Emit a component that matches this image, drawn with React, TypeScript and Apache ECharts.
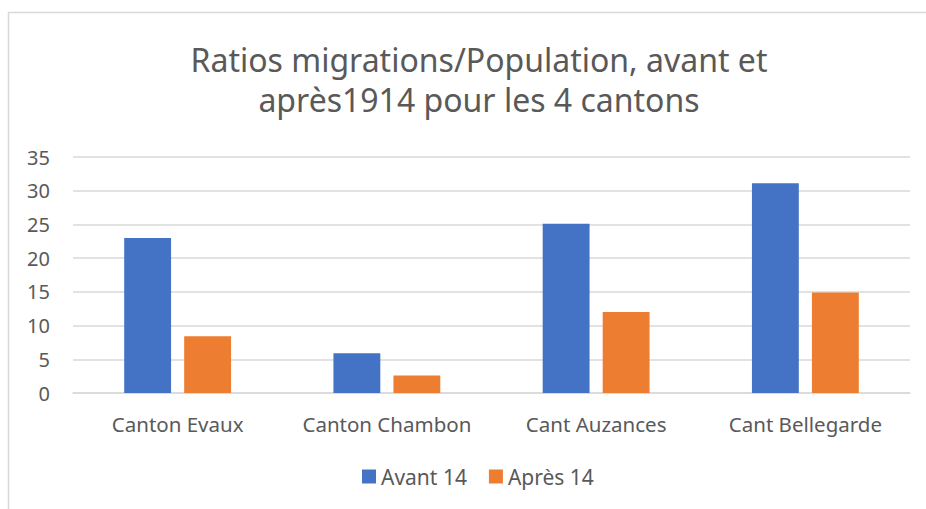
import React, { useEffect, useRef } from "react";
import * as echarts from "echarts";

const categories = ["Canton Evaux", "Canton Chambon", "Cant Auzances", "Cant Bellegarde"];
const avant14 = [23, 5.9, 25.1, 31.1];
const apres14 = [8.4, 2.6, 12, 14.9];
const seriesNames = ["Avant 14", "Après 14"];
const titleText = "Ratios migrations/Population, avant et\naprès1914 pour les 4 cantons";

export default function App() {
  const ref = useRef<HTMLDivElement>(null);
  useEffect(() => {
    if (!ref.current) return;
    const chart = echarts.init(ref.current, null, { renderer: "svg" });
    const font = "'Noto Sans', 'Open Sans', sans-serif";
    chart.setOption({
      animation: false,
      textStyle: { fontFamily: font },
      graphic: [
        {
          type: "rect",
          shape: { x: 8.5, y: 12.5, width: 1000, height: 600 },
          style: { fill: "none", stroke: "#d9d9d9", lineWidth: 1.5 },
          silent: true,
        },
      ],
      title: {
        text: titleText,
        left: 474,
        textAlign: "center",
        top: 34,
        textStyle: {
          fontFamily: font,
          fontSize: 32,
          fontWeight: "normal",
          color: "#595959",
          lineHeight: 40,
        },
      },
      legend: {
        left: 357,
        top: 461,
        icon: "rect",
        itemWidth: 14,
        itemHeight: 14,
        itemGap: 22,
        textStyle: { fontFamily: font, fontSize: 21, color: "#595959" },
        data: seriesNames,
      },
      grid: { left: 73, right: 16, top: 157, bottom: 116, containLabel: false },
      xAxis: {
        type: "category",
        data: categories,
        axisTick: { show: false },
        axisLine: { lineStyle: { color: "#d9d9d9", width: 1.5 } },
        axisLabel: {
          fontFamily: font,
          fontSize: 20.5,
          color: "#595959",
          margin: 20,
          interval: 0,
          hideOverlap: false,
        },
      },
      yAxis: {
        type: "value",
        min: 0,
        max: 35,
        interval: 5,
        axisLine: { show: false },
        axisTick: { show: false },
        splitLine: { lineStyle: { color: "#d9d9d9", width: 1.5 } },
        axisLabel: { fontFamily: font, fontSize: 20, color: "#595959", margin: 23 },
      },
      series: [
        {
          name: seriesNames[0],
          type: "bar",
          data: avant14,
          itemStyle: { color: "#4472C4" },
          barWidth: "22.4%",
          barGap: "28%",
        },
        {
          name: seriesNames[1],
          type: "bar",
          data: apres14,
          itemStyle: { color: "#ED7D31" },
          barWidth: "22.4%",
          barGap: "28%",
        },
      ],
    });
    return () => chart.dispose();
  }, []);
  return (
    <div
      ref={ref}
      style={{ position: "fixed", left: 0, top: 0, width: 926, height: 509, background: "#fff" }}
    />
  );
}
